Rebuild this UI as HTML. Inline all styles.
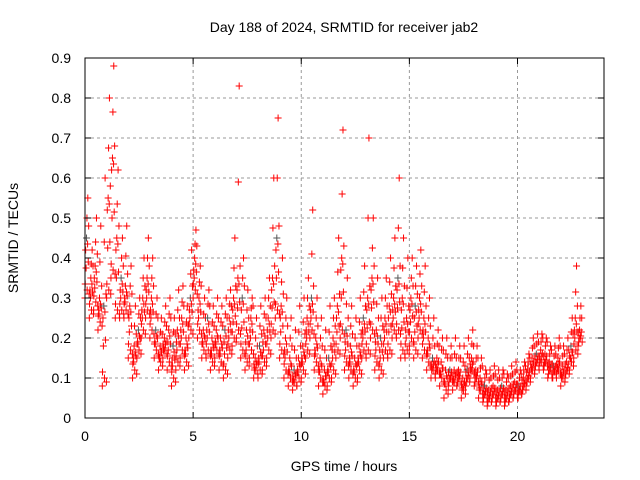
<!DOCTYPE html>
<html><head><meta charset="utf-8"><style>
body{margin:0;background:#fff;width:640px;height:480px;overflow:hidden}
svg{display:block;font-family:"Liberation Sans",sans-serif}
</style></head><body>
<svg id="chart" width="640" height="480">
<text x="344" y="32" font-size="14" text-anchor="middle">Day 188 of 2024, SRMTID for receiver jab2</text>
<text x="344" y="471" font-size="14" text-anchor="middle">GPS time / hours</text>
<text x="18" y="238" font-size="14" text-anchor="middle" transform="rotate(-90 18 238)">SRMTID / TECUs</text>
<g id="grid"></g><g id="marks"></g><g id="axes"></g>
</svg>
<script>
const times=[0,0.2,0.4,0.6,0.8,1,1.2,1.4,1.6,1.8,2,2.2,2.4,2.6,2.8,3,3.2,3.4,3.6,3.8,4,4.2,4.4,4.6,4.8,5,5.2,5.4,5.6,5.8,6,6.2,6.4,6.6,6.8,7,7.2,7.4,7.6,7.8,8,8.2,8.4,8.6,8.8,9,9.2,9.4,9.6,9.8,10,10.2,10.4,10.6,10.8,11,11.2,11.4,11.6,11.8,12,12.2,12.4,12.6,12.8,13,13.2,13.4,13.6,13.8,14,14.2,14.4,14.6,14.8,15,15.2,15.4,15.6,15.8,16,16.2,16.4,16.6,16.8,17,17.2,17.4,17.6,17.8,18,18.2,18.4,18.6,18.8,19,19.2,19.4,19.6,19.8,20,20.2,20.4,20.6,20.8,21,21.2,21.4,21.6,21.8,22,22.2,22.4,22.6,22.8];
const lowVals=[0.30,0.25,0.27,0.22,0.08,0.30,0.35,0.25,0.25,0.25,0.15,0.10,0.15,0.20,0.25,0.20,0.15,0.12,0.15,0.12,0.08,0.12,0.15,0.12,0.20,0.30,0.20,0.15,0.15,0.12,0.15,0.12,0.10,0.15,0.18,0.20,0.15,0.12,0.15,0.10,0.10,0.12,0.15,0.20,0.25,0.15,0.10,0.08,0.07,0.08,0.10,0.15,0.20,0.12,0.08,0.06,0.08,0.10,0.15,0.20,0.12,0.10,0.08,0.10,0.15,0.15,0.20,0.12,0.10,0.15,0.15,0.20,0.20,0.15,0.15,0.18,0.15,0.20,0.15,0.12,0.10,0.10,0.08,0.05,0.08,0.07,0.08,0.05,0.08,0.10,0.08,0.05,0.04,0.03,0.04,0.03,0.04,0.03,0.04,0.05,0.05,0.06,0.08,0.10,0.12,0.12,0.12,0.10,0.10,0.10,0.08,0.10,0.12,0.15,0.18];
const midVals=[0.45,0.35,0.38,0.30,0.28,0.55,0.65,0.45,0.35,0.33,0.28,0.18,0.22,0.30,0.35,0.30,0.22,0.18,0.20,0.22,0.18,0.22,0.25,0.20,0.30,0.40,0.30,0.22,0.25,0.20,0.22,0.20,0.22,0.25,0.30,0.35,0.30,0.22,0.25,0.15,0.18,0.22,0.25,0.35,0.45,0.28,0.20,0.15,0.12,0.15,0.18,0.25,0.30,0.20,0.15,0.12,0.15,0.20,0.28,0.40,0.22,0.18,0.15,0.18,0.25,0.30,0.35,0.22,0.20,0.25,0.28,0.30,0.35,0.30,0.25,0.30,0.28,0.30,0.25,0.20,0.15,0.15,0.14,0.12,0.12,0.12,0.12,0.10,0.12,0.15,0.12,0.10,0.08,0.07,0.08,0.07,0.08,0.07,0.08,0.09,0.08,0.10,0.12,0.15,0.16,0.17,0.16,0.14,0.13,0.15,0.13,0.14,0.18,0.25,0.22];
const highVals=[0.55,0.42,0.50,0.48,0.60,0.80,0.88,0.62,0.45,0.48,0.38,0.28,0.30,0.40,0.45,0.40,0.30,0.25,0.28,0.30,0.25,0.32,0.33,0.28,0.42,0.47,0.38,0.30,0.32,0.28,0.30,0.28,0.30,0.32,0.45,0.83,0.40,0.32,0.30,0.25,0.28,0.30,0.35,0.60,0.75,0.40,0.30,0.25,0.22,0.28,0.30,0.35,0.52,0.30,0.25,0.22,0.28,0.30,0.45,0.72,0.35,0.28,0.25,0.30,0.38,0.70,0.50,0.35,0.30,0.35,0.40,0.45,0.60,0.45,0.40,0.40,0.38,0.42,0.38,0.30,0.25,0.22,0.20,0.20,0.18,0.20,0.18,0.18,0.20,0.22,0.18,0.15,0.12,0.12,0.13,0.12,0.12,0.11,0.13,0.14,0.12,0.14,0.16,0.20,0.21,0.21,0.20,0.18,0.18,0.20,0.18,0.20,0.25,0.38,0.28];
const xTicks=[0,5,10,15,20];
const yTicks=[0,0.1,0.2,0.3,0.4,0.5,0.6,0.7,0.8,0.9];
const L=85,R=604,T=58,B=418;
const xS=t=>L+(t/24)*(R-L);
const yS=v=>B-(v/0.9)*(B-T);
const NS='http://www.w3.org/2000/svg';
function mk(tag,attrs,parent){const e=document.createElementNS(NS,tag);for(const k in attrs)e.setAttribute(k,attrs[k]);parent.appendChild(e);return e;}
const grid=document.getElementById('grid'),marks=document.getElementById('marks'),axes=document.getElementById('axes');
xTicks.forEach(t=>{const x=xS(t);
 if(t>0){const g=mk('line',{x1:x,x2:x,y1:T,y2:B,stroke:'#999','stroke-dasharray':'3,3'},grid);
 
 }
 const tx=mk('text',{x:x,y:B+23,'font-size':14,'text-anchor':'middle'},axes);tx.textContent=t;
 
 
 mk('line',{x1:x,x2:x,y1:B,y2:B-6,stroke:'#000'},axes);mk('line',{x1:x,x2:x,y1:T,y2:T+6,stroke:'#000'},axes);});
yTicks.forEach(v=>{const y=yS(v);
 if(v>0&&v<0.9){const g=mk('line',{x1:L,x2:R,y1:y,y2:y,stroke:'#999','stroke-dasharray':'3,3'},grid);
 
 }
 const tx=mk('text',{x:L-14,y:y+5,'font-size':14,'text-anchor':'end'},axes);tx.textContent=v;
 
 
 mk('line',{x1:L,x2:L+6,y1:y,y2:y,stroke:'#000'},axes);mk('line',{x1:R,x2:R-6,y1:y,y2:y,stroke:'#000'},axes);});
const fr=mk('rect',{x:L,y:T,width:R-L,height:B-T,fill:'none',stroke:'#000'},axes);


function cross(t,v,col){const x=xS(t),y=yS(v);
 const p=mk('path',{d:`M${x-3.5} ${y}h7M${x} ${y-3.5}v7`,stroke:col,'stroke-width':1,fill:'none'},marks);
 
 }
times.forEach((t,i)=>{
 const lo=lowVals[i],mi=midVals[i],hi=highVals[i];
 cross(t,lo,'#f00');cross(t+0.07,mi,i%4==0?'#555':'#f00');cross(t+0.13,hi,'#f00');
 cross(t+0.1,lo+0.02,'#f00');cross(t+0.03,mi-0.03,'#f00');cross(t+0.17,mi+0.03,'#f00');
 cross(t+0.05,(lo+mi)/2,'#f00');cross(t+0.15,(lo+mi)/2+0.015,'#f00');cross(t+0.12,mi-0.015,'#f00');
 cross(t+0.09,(mi+hi)/2,'#f00');cross(t+0.01,lo+0.035,'#f00');cross(t+0.19,lo+0.01,'#f00');
});
</script>
</body></html>
